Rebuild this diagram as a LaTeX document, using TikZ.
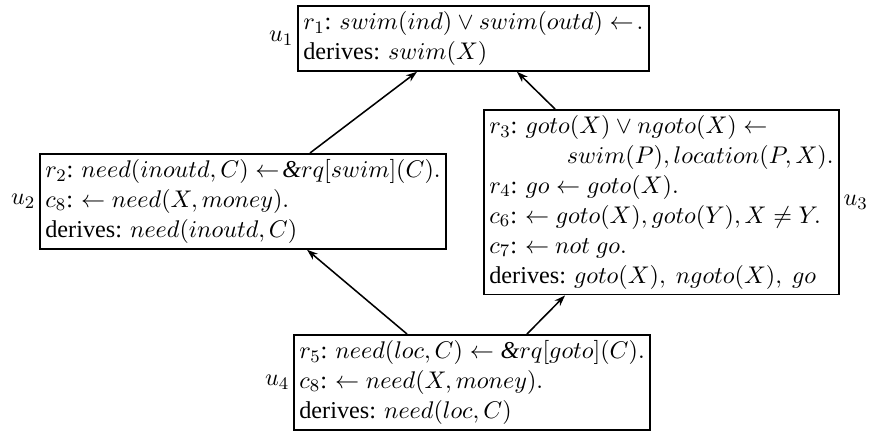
\documentclass[tikz,border=0pt]{standalone}
\usepackage{fontspec}
\setmainfont{Liberation Serif}
\usetikzlibrary{calc,arrows.meta}
\begin{document}
\begin{tikzpicture}[x=0.4545pt,y=-0.4545pt,
  unit/.style={draw,line width=0.8pt,align=left,inner sep=2.5pt,anchor=north west,font=\fontsize{11}{13.6}\selectfont},
  ulabel/.style={inner sep=1.5pt,font=\fontsize{11}{13.6}\selectfont},
  edge/.style={-{Stealth[length=5pt,width=3.5pt]},line width=0.7pt}]
\useasboundingbox (0,0) rectangle (882,435);
\node[unit] (u1) at (297,5) {$r_1$: $swim(ind) \vee swim(outd) \leftarrow\!.$\\ derives: $swim(X)$};
\node[unit] (u2) at (39,153) {$r_2$: $need(inoutd, C) \leftarrow\!\textit{\&}rq[swim](C).$\\ $c_8$: $\leftarrow need(X, money).$\\ derives: $need(inoutd, C)$};
\node[unit] (u3) at (483,109) {$r_3$: $goto(X) \vee ngoto(X) \leftarrow$\\ \hspace*{3.2em}$swim(P), location(P, X).$\\ $r_4$: $go \leftarrow goto(X).$\\ $c_6$: $\leftarrow goto(X), goto(Y), X \neq Y.$\\ $c_7$: $\leftarrow$ $not\ go.$\\ derives: $goto(X),\ ngoto(X),\ go$};
\node[unit] (u4) at (293,334) {$r_5$: $need(loc, C) \leftarrow \textit{\&}rq[goto](C).$\\ $c_8$: $\leftarrow need(X, money).$\\ derives: $need(loc, C)$};
\node[ulabel,anchor=east] (l1) at (u1.west) {$u_1$};
\node[ulabel,anchor=east] (l2) at (u2.west) {$u_2$};
\node[ulabel,anchor=west] (l3) at (u3.east) {$u_3$};
\node[ulabel,anchor=east] (l4) at (u4.west) {$u_4$};
\draw[edge] ($(u2.north west)+(271,0)$) -- ($(u1.south west)+(120,0)$);
\draw[edge] ($(u3.north west)+(72,0)$) -- ($(u1.south west)+(220,0)$);
\draw[edge] ($(u4.north west)+(114,0)$) -- ($(u2.south west)+(268,0)$);
\draw[edge] ($(u4.north west)+(234,0)$) -- ($(u3.south west)+(82,0)$);
\end{tikzpicture}
\end{document}
